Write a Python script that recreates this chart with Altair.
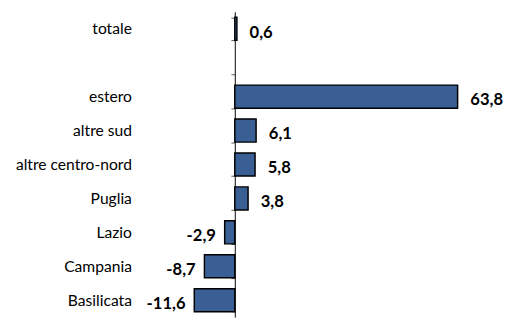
import altair as alt
import pandas as pd

categories = ["totale", " ", "estero", "altre sud", "altre centro-nord",
              "Puglia", "Lazio", "Campania", "Basilicata"]
bar_categories = ["totale", "estero", "altre sud", "altre centro-nord",
                  "Puglia", "Lazio", "Campania", "Basilicata"]
values = [0.6, 63.8, 6.1, 5.8, 3.8, -2.9, -8.7, -11.6]

df = pd.DataFrame({"cat": bar_categories, "value": values})

k = 3.58
dmin, dmax = -20, 78
W = (dmax - dmin) * k
H = 313
FONT = "Lato"

x_scale = alt.Scale(domain=[dmin, dmax], nice=False, zero=False)
y_scale = alt.Scale(domain=categories, paddingInner=0.32, paddingOuter=0.16)

base = alt.Chart(df).encode(
    y=alt.Y("cat:N", scale=y_scale,
            axis=alt.Axis(title=None, offset=-(0 - dmin) * k, domain=True,
                          domainColor="#000000", domainWidth=1,
                          ticks=True, tickBand="extent", tickSize=4,
                          tickColor="#595959", tickWidth=1,
                          labelFont=FONT, labelFontSize=16,
                          labelColor="#000000", labelPadding=102,
                          labelAlign="right")),
)

bars = base.mark_bar(color="#3A5F94", stroke="#000000", strokeWidth=1.5).encode(
    x=alt.X("value:Q", scale=x_scale, axis=None),
    x2=alt.datum(0),
)

lab = "(datum.value < 0 ? '-' : '') + replace(format(abs(datum.value), '.1f'), '.', ',')"

pos_text = base.transform_filter("datum.value >= 0").transform_calculate(
    lab=lab).mark_text(align="left", dx=13, dy=4, font=FONT, fontSize=17,
                       fontWeight="bold", color="#000000").encode(
    x=alt.X("value:Q", scale=x_scale, axis=None),
    text="lab:N",
)

neg_text = base.transform_filter("datum.value < 0").transform_calculate(
    lab=lab).mark_text(align="right", dx=-9, dy=4, font=FONT, fontSize=17,
                       fontWeight="bold", color="#000000").encode(
    x=alt.X("value:Q", scale=x_scale, axis=None),
    text="lab:N",
)

chart = alt.layer(bars, pos_text, neg_text).properties(
    width=W, height=H,
    autosize=alt.AutoSizeParams(type="none"),
    padding={"left": 240.5 - 8 + dmin * k, "top": 0, "right": 8, "bottom": 0},
).configure_view(stroke=None)

chart.save("out.html", embed_options={"renderer": "svg", "actions": False})
